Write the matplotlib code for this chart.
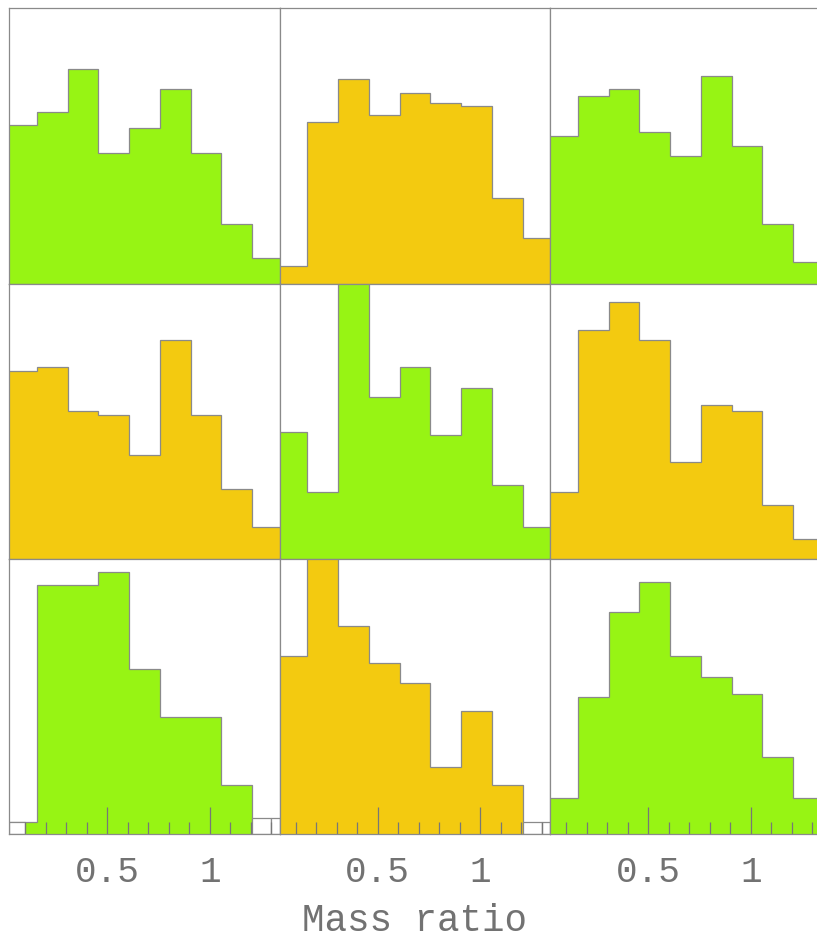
import numpy as np
import matplotlib
matplotlib.use("Agg")
import matplotlib.pyplot as plt

# bin edges (mass ratio) and bar heights for the 3x3 panels (arbitrary units)
edges = [0.007 + 0.15 * k for k in range(10)]

h_tl = [158, 171, 214, 130, 155, 194, 130, 60, 26]
h_tm = [18, 161, 204, 168, 190, 180, 177, 86, 46]
h_tr = [147, 187, 194, 151, 127, 207, 137, 60, 22]
h_ml = [188, 192, 148, 144, 104, 219, 144, 70, 32]
h_mm = [127, 67, 290, 162, 192, 124, 171, 74, 32]
h_mr = [67, 229, 257, 219, 97, 154, 148, 54, 20]
h_bl = [12, 249, 249, 262, 165, 117, 117, 49, 0]
h_bm = [178, 290, 208, 171, 151, 67, 123, 49, 0]
h_br = [36, 137, 222, 252, 178, 157, 140, 77, 36]

heights = [[h_tl, h_tm, h_tr],
           [h_ml, h_mm, h_mr],
           [h_bl, h_bm, h_br]]

xmin, xmax = 0.0214, 1.340
ymax = 275

# empty outlined boxes along the floor of the bottom row
floor_bl = [(xmin, 0.1, 12), (1.207, 1.3, 16), (1.3, xmax, 16)]
floor_bm = [(1.207, 1.3, 12), (1.3, xmax, 12)]
floors = [floor_bl, floor_bm, []]

green = "#97f414"
yellow = "#f3ca10"
colors = [[green, yellow, green],
          [yellow, green, yellow],
          [green, yellow, green]]

major_ticks = [0.5, 1.0]
major_labels = ["0.5", "1"]
minor_ticks = [0.1, 0.2, 0.3, 0.4, 0.6, 0.7, 0.8, 0.9, 1.1, 1.2, 1.3]

W, H = 817, 943
fig = plt.figure(figsize=(W / 100, H / 100), dpi=100)
plt.rcParams['font.family'] = ['Liberation Mono', 'DejaVu Sans Mono']

edge_col = "#8a8a8a"
tick_col = "#777777"
txt_col = "#727272"
pw, ph = 270.5, 275.3

for r in range(3):
    for c in range(3):
        left = (9 + c * pw) / W
        bottom = 1 - (8.3 + (r + 1) * ph) / H
        ax = fig.add_axes([left, bottom, pw / W, ph / H])
        ax.stairs(heights[r][c], edges, fill=True, facecolor=colors[r][c],
                  edgecolor=edge_col, linewidth=0.9, zorder=1)
        ax.set_xlim(xmin, xmax)
        ax.set_ylim(0, ymax)
        ax.set_yticks([])
        for s in ax.spines.values():
            s.set_color(edge_col)
            s.set_linewidth(0.9)
        if r == 2:
            for x0, x1, hh in floors[c]:
                ax.add_patch(plt.Rectangle((x0, 0), x1 - x0, hh, facecolor="white",
                                           edgecolor=edge_col, linewidth=0.9, zorder=1.2))
            ax.set_xticks(major_ticks, major_labels)
            ax.set_xticks(minor_ticks, minor=True)
            ax.tick_params(axis="x", which="major", direction="in", length=19.5,
                           width=0.9, color=tick_col, pad=15, labelsize=26,
                           labelcolor=txt_col)
            ax.tick_params(axis="x", which="minor", direction="in", length=8.6,
                           width=0.9, color=tick_col)
        else:
            ax.set_xticks([])

fig.text(414 / W, 1 - 921 / H, "Mass ratio", ha="center", va="center",
         fontsize=27, color=txt_col)

fig.savefig("out.png", dpi=100)
